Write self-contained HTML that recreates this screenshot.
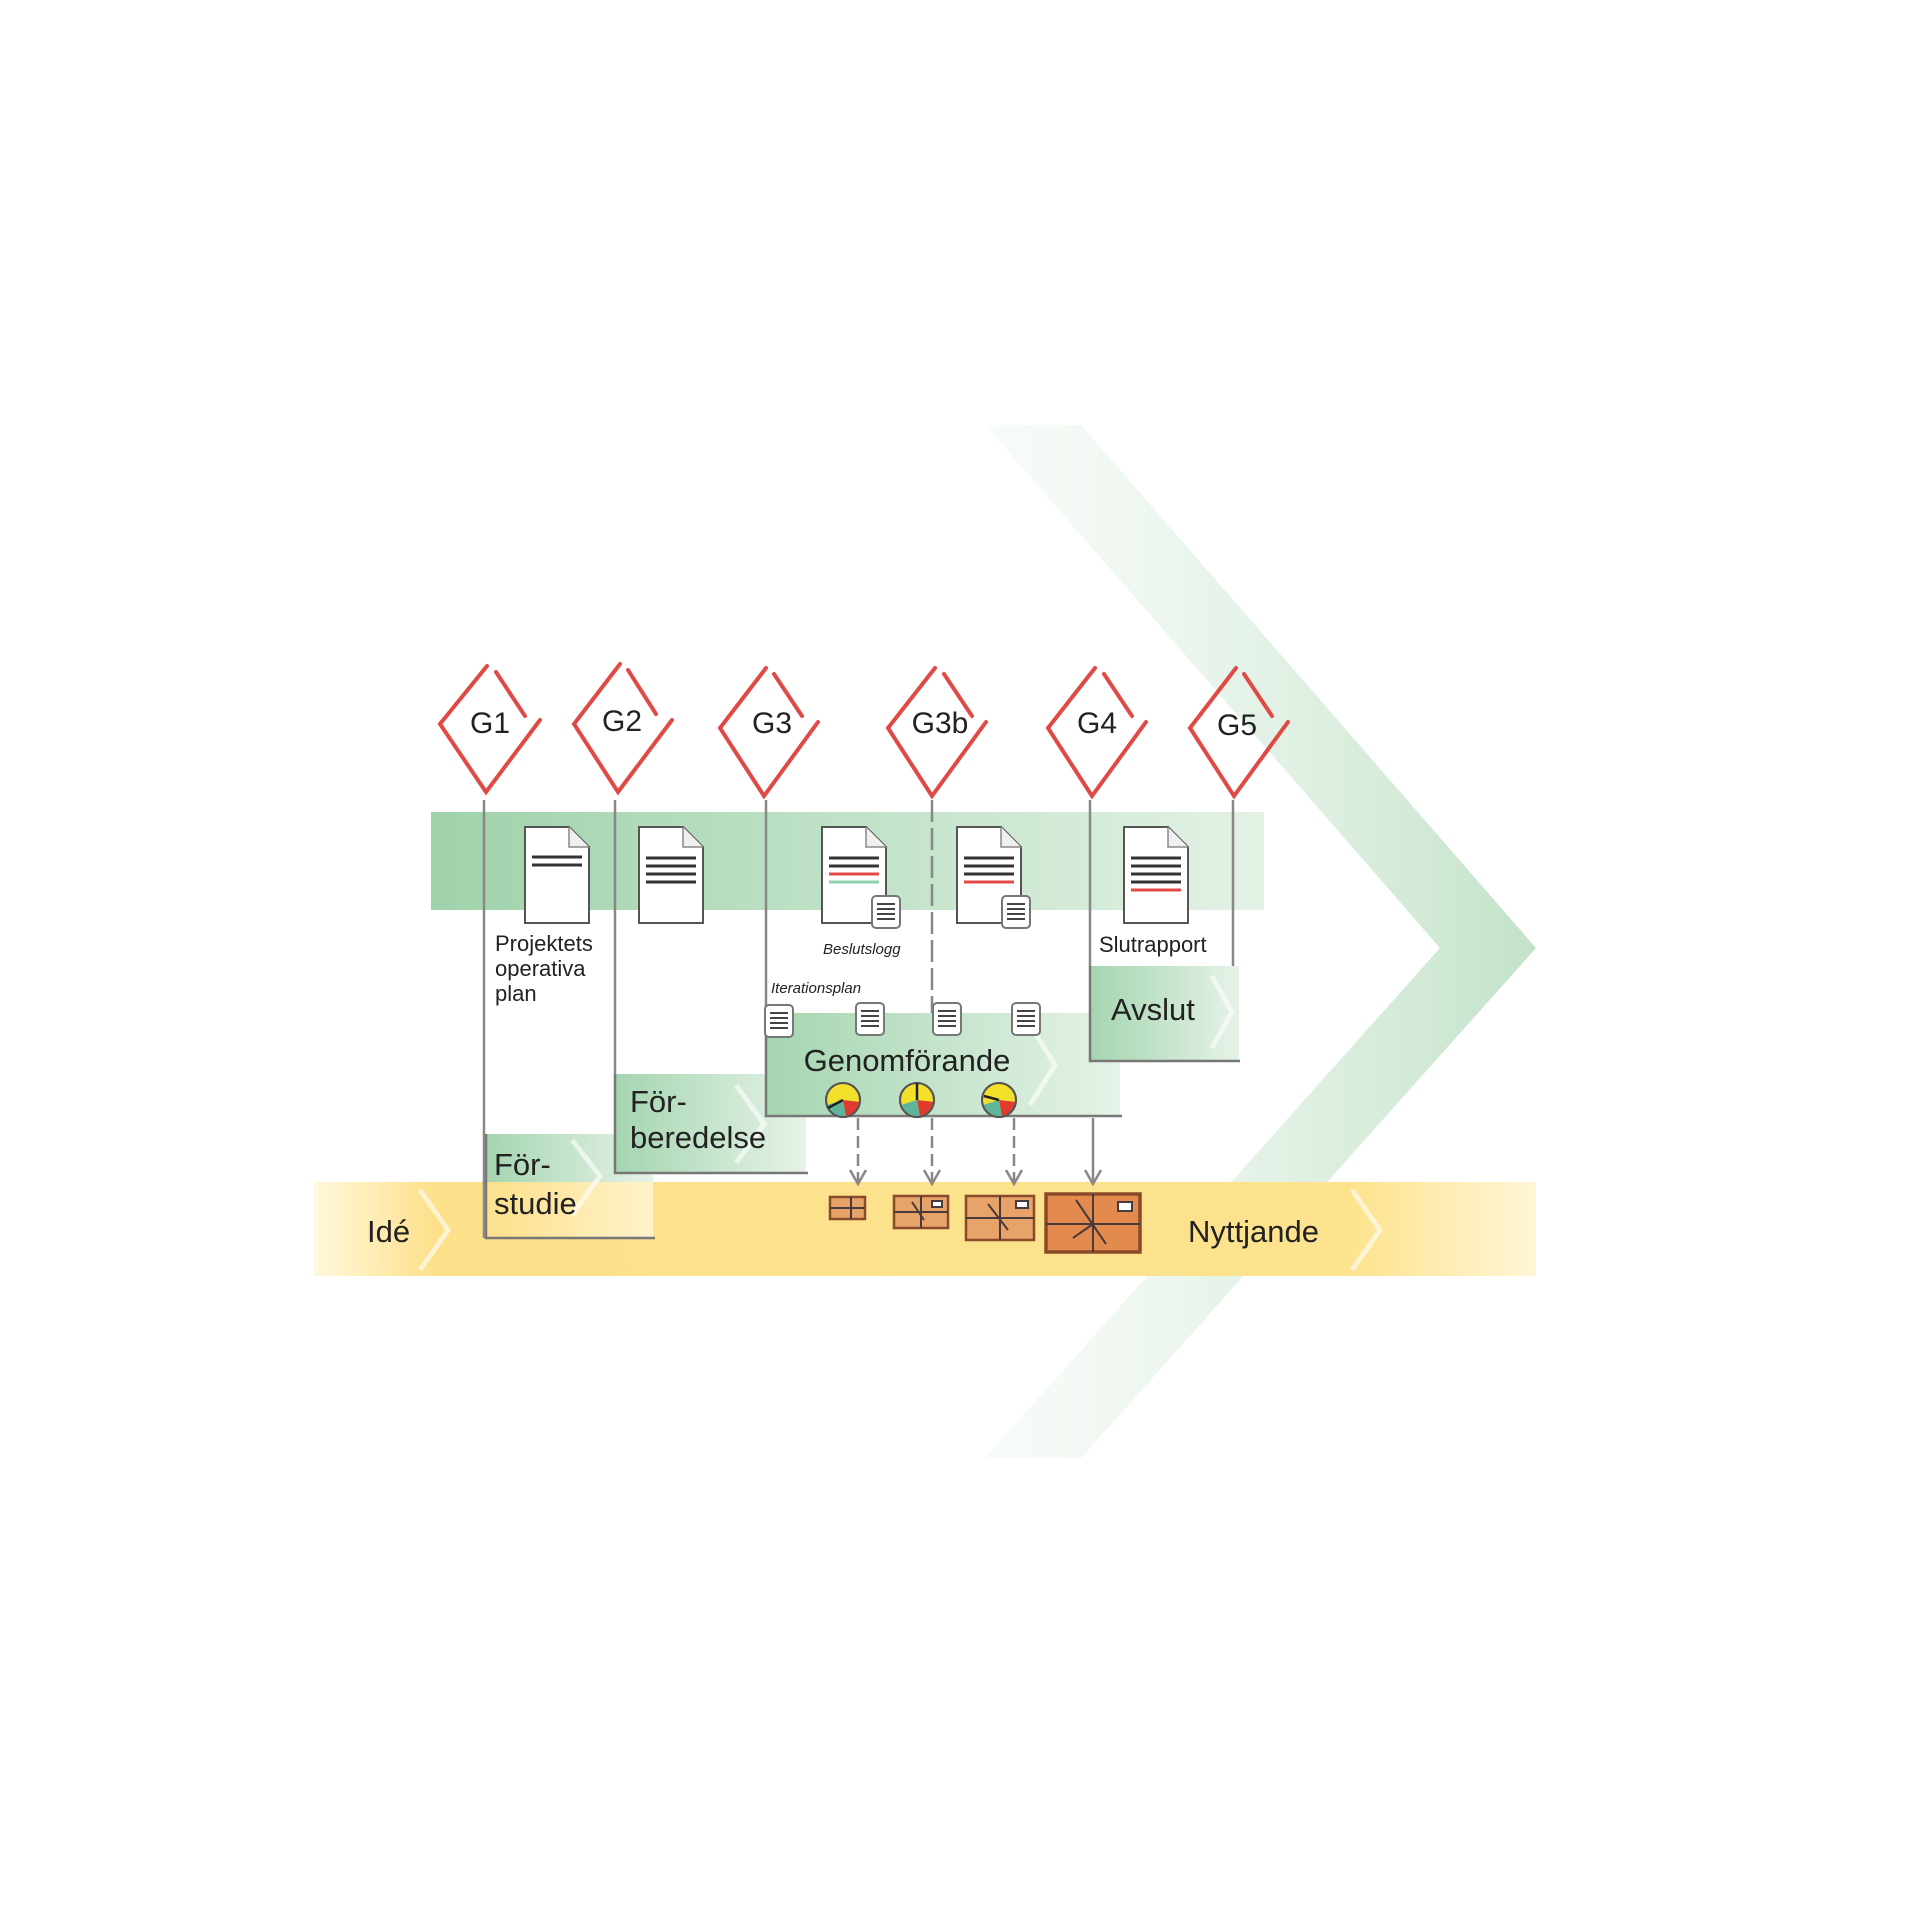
<!DOCTYPE html>
<html><head><meta charset="utf-8"><style>
html,body{margin:0;padding:0;background:#fff}
svg{display:block}
text{font-family:"Liberation Sans","DejaVu Sans",sans-serif;fill:#222}
</style></head><body>
<svg width="1920" height="1920" viewBox="0 0 1920 1920" xmlns="http://www.w3.org/2000/svg">
<defs>
<linearGradient id="chev" x1="0" y1="0" x2="1" y2="0">
<stop offset="0" stop-color="#e8f4ea" stop-opacity="0.3"/><stop offset="1" stop-color="#c2e2c8"/></linearGradient>
<linearGradient id="gband" x1="0" y1="0" x2="1" y2="0">
<stop offset="0" stop-color="#9fd2aa"/><stop offset="0.6" stop-color="#c7e5cd"/><stop offset="1" stop-color="#e4f2e6"/></linearGradient>
<linearGradient id="yband" x1="0" y1="0" x2="1" y2="0">
<stop offset="0" stop-color="#fff8dc"/><stop offset="0.1" stop-color="#fde08a"/><stop offset="0.85" stop-color="#fde38e"/><stop offset="1" stop-color="#fff6d6"/></linearGradient>
<linearGradient id="phase" x1="0" y1="0" x2="1" y2="0">
<stop offset="0" stop-color="#a5d5b0"/><stop offset="1" stop-color="#e6f3e8"/></linearGradient>
<linearGradient id="phaseY" x1="0" y1="0" x2="1" y2="0">
<stop offset="0" stop-color="#fde08a"/><stop offset="1" stop-color="#fff3cc"/></linearGradient>
<g id="doc"><path d="M0 0 H44 L64 20 V96 H0 Z" fill="#fff" stroke="#555" stroke-width="2"/><path d="M44 0 V20 H64" fill="#f0f0f0" stroke="#888" stroke-width="1.5"/></g>
<g id="lst"><rect x="0" y="0" width="28" height="32" rx="4" fill="#fff" stroke="#777" stroke-width="2"/>
<path d="M5 8h18M5 13h18M5 18h18M5 23h18" stroke="#444" stroke-width="2"/></g>
<g id="pie"><circle r="17" fill="#f3e02a" stroke="#555" stroke-width="2"/>
<path d="M0 0 L17 2 A17 17 0 0 1 3 17 Z" fill="#e03a2e"/><path d="M0 0 L3 17 A17 17 0 0 1 -16 5 Z" fill="#5fb59a"/>
<circle r="17" fill="none" stroke="#555" stroke-width="2"/></g>
</defs>

<!-- big chevron -->
<polygon points="985,425 1081,425 1536,948 1081,1458 985,1458 1440,948" fill="url(#chev)"/>

<!-- green band -->
<rect x="431" y="812" width="833" height="98" fill="url(#gband)"/>
<!-- yellow band -->
<rect x="314" y="1182" width="1222" height="94" fill="url(#yband)"/>

<!-- phase boxes -->
<rect x="486" y="1134" width="167" height="104" fill="url(#phaseY)"/>
<rect x="486" y="1134" width="167" height="48" fill="url(#phase)"/>
<path d="M486 1134 V1238 H655" fill="none" stroke="#777" stroke-width="2.5"/>
<rect x="615" y="1074" width="191" height="99" fill="url(#phase)"/>
<path d="M615 1074 V1173 H808" fill="none" stroke="#777" stroke-width="2.5"/>
<rect x="766" y="1013" width="354" height="103" fill="url(#phase)"/>
<path d="M766 1013 V1116 H1122" fill="none" stroke="#777" stroke-width="2.5"/>
<rect x="1090" y="966" width="149" height="95" fill="url(#phase)"/>
<path d="M1090 966 V1061 H1240" fill="none" stroke="#777" stroke-width="2.5"/>

<!-- small pale chevrons -->
<g fill="none" stroke="#fff" stroke-opacity="0.6" stroke-width="5">
<path d="M420 1190 L448 1230 L420 1270"/><path d="M572 1140 L600 1176 L572 1215"/>
<path d="M736 1085 L764 1124 L736 1163"/><path d="M1212 976 L1232 1012 L1212 1048"/>
<path d="M1352 1190 L1380 1230 L1352 1270"/><path d="M1030 1025 L1055 1065 L1030 1105"/>
</g>

<!-- vertical lines -->
<g stroke="#888" stroke-width="2.5" fill="none">
<line x1="484" y1="800" x2="484" y2="1238"/>
<line x1="615" y1="800" x2="615" y2="1074"/>
<line x1="766" y1="800" x2="766" y2="1013"/>
<line x1="1090" y1="800" x2="1090" y2="966"/>
<line x1="1233" y1="800" x2="1233" y2="966"/>
<line x1="932" y1="800" x2="932" y2="1013" stroke-dasharray="22 6"/>
<line x1="858" y1="1118" x2="858" y2="1182" stroke-dasharray="12 6"/>
<line x1="932" y1="1118" x2="932" y2="1182" stroke-dasharray="12 6"/>
<line x1="1014" y1="1118" x2="1014" y2="1182" stroke-dasharray="12 6"/>
<line x1="1093" y1="1118" x2="1093" y2="1182"/>
<path d="M850 1170 L858 1184 L866 1170"/><path d="M924 1170 L932 1184 L940 1170"/>
<path d="M1006 1170 L1014 1184 L1022 1170"/><path d="M1085 1170 L1093 1184 L1101 1170"/>
</g>

<!-- diamonds -->
<g fill="none" stroke="#e04a45" stroke-width="4" stroke-linecap="round">
<path d="M487 666 L440 724 L486 792 L540 720 M496 672 L525 716"/>
<path d="M620 664 L574 724 L618 792 L672 720 M628 670 L656 714"/>
<path d="M766 668 L720 728 L764 796 L818 722 M774 674 L802 716"/>
<path d="M935 668 L888 728 L932 796 L986 722 M944 674 L972 716"/>
<path d="M1095 668 L1048 728 L1092 796 L1146 722 M1104 674 L1132 716"/>
<path d="M1236 668 L1190 728 L1234 796 L1288 722 M1244 674 L1272 716"/>
</g>
<g font-size="30" text-anchor="middle">
<text x="490" y="733">G1</text><text x="622" y="731">G2</text><text x="772" y="733">G3</text>
<text x="940" y="733">G3b</text><text x="1097" y="733">G4</text><text x="1237" y="735">G5</text>
</g>

<!-- documents -->
<use href="#doc" x="525" y="827"/><use href="#doc" x="639" y="827"/>
<use href="#doc" x="822" y="827"/><use href="#doc" x="957" y="827"/><use href="#doc" x="1124" y="827"/>
<g stroke="#333" stroke-width="3">
<path d="M532 857h50M532 865h50"/>
<path d="M646 858h50M646 866h50M646 874h50M646 882h50"/>
<path d="M829 858h50M829 866h50"/><path d="M829 874h50" stroke="#e04a45"/><path d="M829 882h50" stroke="#8fcfb0"/>
<path d="M964 858h50M964 866h50M964 874h50"/><path d="M964 882h50" stroke="#e04a45"/>
<path d="M1131 858h50M1131 866h50M1131 874h50M1131 882h50"/><path d="M1131 890h50" stroke="#e04a45"/>
</g>
<use href="#lst" x="872" y="896"/><use href="#lst" x="1002" y="896"/>
<use href="#lst" x="765" y="1005"/><use href="#lst" x="856" y="1003"/><use href="#lst" x="933" y="1003"/><use href="#lst" x="1012" y="1003"/>

<!-- doc labels -->
<g font-size="22"><text x="495" y="951">Projektets</text><text x="495" y="976">operativa</text><text x="495" y="1001">plan</text>
<text x="1099" y="952">Slutrapport</text></g>
<text x="823" y="954" font-size="15" font-style="italic" font-family="Liberation Serif,serif">Beslutslogg</text>
<text x="771" y="993" font-size="15" font-style="italic" font-family="Liberation Serif,serif">Iterationsplan</text>

<!-- phase labels -->
<g font-size="31">
<text x="494" y="1175">För-</text><text x="494" y="1214">studie</text>
<text x="630" y="1112">För-</text><text x="630" y="1148">beredelse</text>
<text x="907" y="1071" text-anchor="middle">Genomförande</text>
<text x="1111" y="1020">Avslut</text>
<text x="367" y="1242">Idé</text><text x="1188" y="1242">Nyttjande</text>
</g>

<!-- pies -->
<use href="#pie" x="843" y="1100"/><use href="#pie" x="917" y="1100"/><use href="#pie" x="999" y="1100"/>
<g stroke="#222" stroke-width="2.5"><path d="M843 1100 L828 1108"/><path d="M917 1100 V1083"/><path d="M999 1100 L984 1096"/></g>

<!-- packages -->
<g stroke="#8a4a2a" stroke-width="2.5" fill="#e8a468">
<rect x="830" y="1197" width="35" height="22"/><rect x="894" y="1196" width="54" height="32"/>
<rect x="966" y="1196" width="68" height="44"/><rect x="1046" y="1194" width="94" height="58" fill="#e38a4e" stroke-width="3.5"/>
</g>
<g stroke="#4a3a3a" stroke-width="2" fill="none">
<path d="M830 1208h35M851 1197v22"/><path d="M894 1212h54M921 1196v32M912 1202l12 18"/>
<path d="M966 1218h68M1000 1196v44M988 1204l20 26"/><path d="M1046 1224h94M1093 1194v58M1076 1200l30 44M1093 1224l-20 14"/>
<rect x="932" y="1201" width="10" height="6" fill="#fff"/><rect x="1016" y="1201" width="12" height="7" fill="#fff"/><rect x="1118" y="1202" width="14" height="9" fill="#fff"/>
</g>
</svg>
</body></html>
